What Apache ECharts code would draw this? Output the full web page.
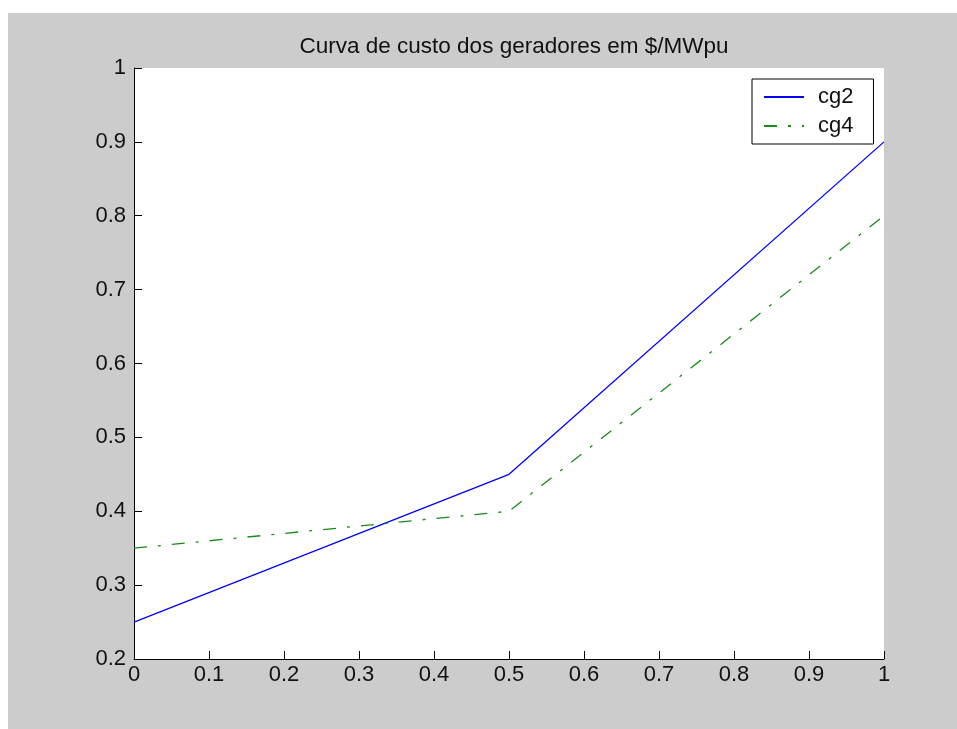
<!DOCTYPE html>
<html>
<head>
<meta charset="utf-8">
<script src="https://cdn.jsdelivr.net/npm/echarts@6/dist/echarts.min.js"></script>
<style>
html,body{margin:0;padding:0;background:#ffffff;overflow:hidden;}
#c{position:absolute;left:8px;top:13px;width:949px;height:716px;}
</style>
</head>
<body>
<div id="c"></div>
<script>
const titleText = 'Curva de custo dos geradores em $/MWpu';
const xValues = [0, 0.5, 1];
const cg2 = [0.25, 0.45, 0.9];
const cg4 = [0.35, 0.4, 0.8];
const seriesNames = ['cg2', 'cg4'];

const font = '"Liberation Sans", Arial, Helvetica, sans-serif';
const chart = echarts.init(document.getElementById('c'));
chart.setOption({
  backgroundColor: '#cccccc',
  animation: false,
  title: {
    text: titleText,
    left: 501,
    textAlign: 'center',
    top: 17,
    textStyle: {fontFamily: font, fontSize: 22.5, fontWeight: 'normal', color: '#111'}
  },
  legend: {
    data: seriesNames,
    orient: 'vertical',
    left: 744,
    top: 66,
    itemWidth: 40,
    itemHeight: 22,
    itemGap: 7,
    padding: [7, 20, 7, 11],
    borderColor: '#000',
    borderWidth: 1,
    backgroundColor: '#ffffff',
    itemStyle: {opacity: 0},
    textStyle: {fontFamily: font, fontSize: 22, color: '#111', lineHeight: 22, padding: [0, 0, 0, 9]}
  },
  grid: {
    left: 126, top: 55, right: 73, bottom: 70,
    show: true, backgroundColor: '#ffffff', borderWidth: 0
  },
  xAxis: {
    type: 'value', min: 0, max: 1, interval: 0.1,
    axisLine: {show: true, lineStyle: {color: '#000', width: 1}},
    axisTick: {show: true, inside: true, length: 8, lineStyle: {color: '#000'}},
    axisLabel: {fontFamily: font, fontSize: 22, color: '#111', margin: 5},
    splitLine: {show: false}
  },
  yAxis: {
    type: 'value', min: 0.2, max: 1, interval: 0.1,
    axisLine: {show: true, lineStyle: {color: '#000', width: 1}},
    axisTick: {show: true, inside: true, length: 8, lineStyle: {color: '#000'}},
    axisLabel: {fontFamily: font, fontSize: 22, color: '#111', margin: 8},
    splitLine: {show: false}
  },
  series: [
    {
      name: seriesNames[0], type: 'line', symbol: 'none',
      data: xValues.map((x, i) => [x, cg2[i]]),
      lineStyle: {color: '#0000ff', width: 1.3},
      itemStyle: {color: '#0000ff'}
    },
    {
      name: seriesNames[1], type: 'line', symbol: 'none',
      data: xValues.map((x, i) => [x, cg4[i]]),
      lineStyle: {color: '#1a8a1a', width: 1.3, type: [13, 11, 3, 11]},
      itemStyle: {color: '#1a8a1a'}
    }
  ]
});
</script>
</body>
</html>
